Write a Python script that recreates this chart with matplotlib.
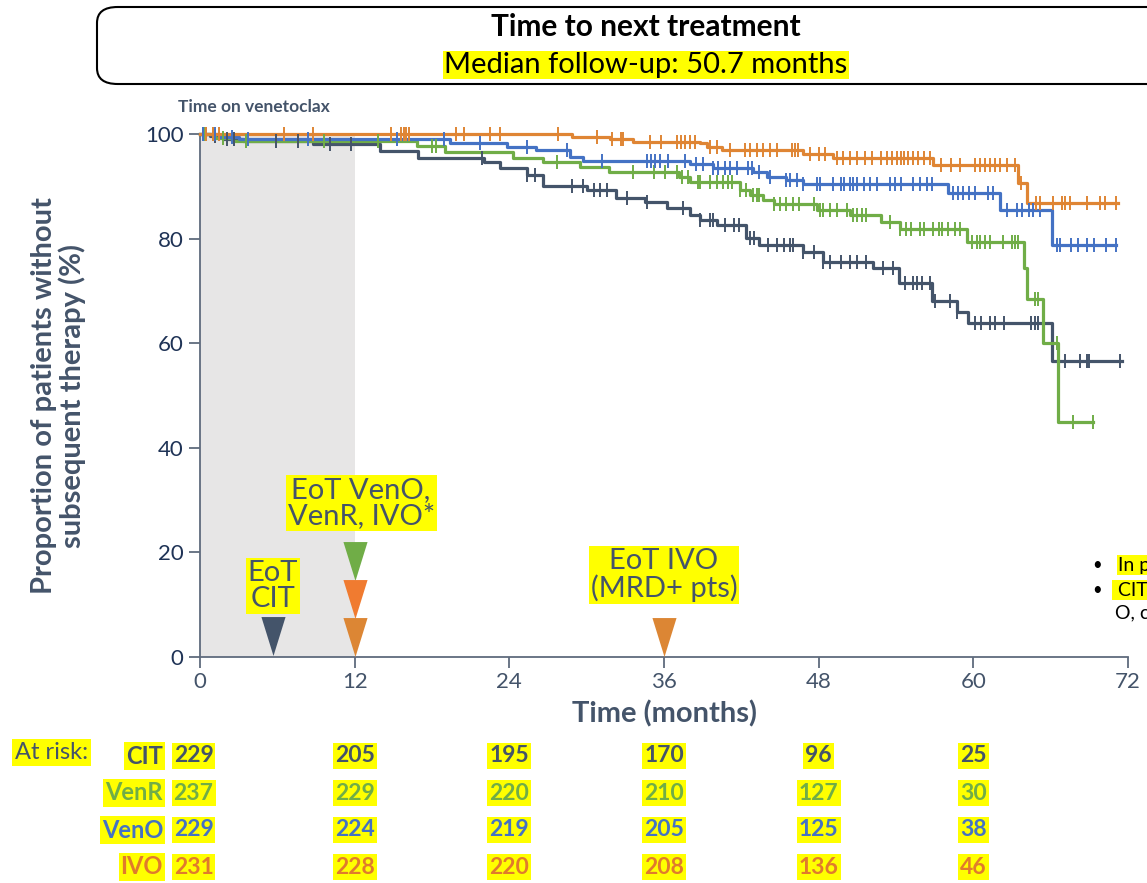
import numpy as np
import matplotlib
matplotlib.use("Agg")
import matplotlib.pyplot as plt
from matplotlib import patches, transforms
from matplotlib.path import Path

plt.rcParams["font.family"] = ["Lato", "DejaVu Sans"]

# ---- data ----
arms = ["CIT", "VenR", "VenO", "IVO"]
colors = {"CIT": "#44546A", "VenR": "#70AD47", "VenO": "#4472C4", "IVO": "#DF8534"}

cit_t = [0, 0.8, 1.8, 3.3, 8.8, 14.0, 16.9, 22.0, 23.3, 25.4, 26.6, 30.0, 32.3, 34.5, 36.2,
         38.0, 38.8, 40.1, 42.4, 43.4, 46.8, 48.3, 52.2, 54.2, 56.8, 58.7, 59.6, 66.1]
cit_s = [100, 99.6, 99.1, 98.6, 98.1, 96.8, 95.4, 94.6, 93.5, 92.2, 90.1, 89.3, 87.8, 87.0, 85.8,
         84.5, 83.5, 82.6, 80.1, 78.8, 77.4, 75.5, 74.4, 71.5, 68.1, 66.0, 63.9, 56.6]
cit_end = 71.5
cit_cens = [0.2, 0.5, 1.2, 2.1, 2.6, 5.9, 7.6, 10.1, 11.7, 21.9, 25.4, 26.0, 28.9, 29.7, 30.6,
            31.0, 31.6, 33.1, 34.7, 37.5, 38.8, 39.6, 39.8, 40.7, 41.4, 41.8, 42.7, 43.0, 44.1,
            44.8, 45.3, 45.8, 46.0, 46.8, 47.6, 48.3, 48.9, 49.7, 50.4, 51.0, 51.7, 53.0, 53.8,
            54.7, 55.3, 55.6, 56.0, 56.6, 57.0, 58.2, 58.7, 60.1, 60.6, 61.3, 61.7, 62.4, 64.5,
            64.8, 65.0, 67.1, 68.3, 68.8, 69.0, 71.4]

venr_t = [0, 1.2, 2.5, 16.8, 19.0, 24.3, 26.6, 29.5, 31.7, 37.2, 38.0, 41.9, 42.7, 43.7, 44.5,
          47.9, 50.4, 52.8, 54.3, 59.5, 63.9, 64.2, 65.4, 66.6]
venr_s = [100, 99.3, 98.7, 97.8, 96.5, 95.4, 94.6, 93.6, 92.8, 91.8, 90.8, 89.2, 88.3, 87.4, 86.6,
          85.5, 84.5, 83.2, 81.8, 79.3, 74.4, 68.4, 60.0, 45.0]
venr_end = 69.3
venr_cens = [0.4, 1.0, 1.8, 3.6, 9.6, 13.8, 18.0, 18.3, 27.7, 33.6, 35.2, 36.1, 37.0, 37.4,
             37.9, 38.6, 38.8, 39.6, 40.1, 40.6, 41.0, 41.3, 41.9, 42.4, 42.9, 43.2, 43.4, 44.5,
             45.0, 45.5, 46.0, 46.5, 47.6, 48.1, 48.3, 48.9, 49.4, 50.2, 50.7, 51.0, 51.4, 51.7,
             53.5, 54.3, 54.8, 55.2, 55.9, 56.2, 56.9, 57.3, 57.6, 58.0, 58.6, 59.0, 59.9, 60.3,
             60.5, 60.9, 61.3, 62.3, 63.0, 63.2, 63.5, 64.8, 65.0, 66.5, 67.7, 69.3]

veno_t = [0, 1.5, 3.0, 19.4, 23.8, 26.1, 28.7, 29.7, 38.0, 39.8, 42.9, 44.0, 45.5, 46.8, 58.0,
          62.1, 66.1]
veno_s = [100, 99.5, 99.0, 98.3, 97.5, 96.9, 95.6, 94.8, 94.3, 93.5, 92.7, 91.8, 91.2, 90.4,
          88.7, 85.5, 78.8]
veno_end = 71.1
veno_cens = [0.2, 1.2, 2.5, 3.7, 8.4, 15.3, 18.9, 21.7, 25.4, 28.5, 31.2, 34.7, 35.0, 35.3,
             35.7, 36.3, 37.6, 38.5, 39.0, 39.8, 40.2, 40.7, 41.1, 41.7, 42.5, 42.8, 43.4, 44.2,
             45.5, 45.8, 46.3, 46.8, 47.9, 48.1, 49.1, 49.7, 50.0, 50.4, 50.7, 51.0, 51.5, 52.0,
             52.5, 53.5, 53.9, 54.4, 55.3, 55.9, 56.4, 56.8, 58.4, 58.8, 59.2, 59.7, 60.1, 61.1,
             61.5, 62.6, 63.4, 63.8, 64.3, 64.6, 65.2, 66.5, 66.7, 67.6, 68.1, 68.8, 69.4, 70.3,
             71.1]

ivo_t = [0, 28.9, 31.8, 33.6, 38.8, 39.3, 40.5, 46.8, 49.1, 56.9, 63.5, 64.2]
ivo_s = [100, 99.5, 99.0, 98.5, 98.2, 97.5, 96.9, 96.2, 95.4, 94.1, 90.6, 86.8]
ivo_end = 71.2
ivo_cens = [0.5, 1.0, 1.5, 6.5, 8.8, 14.8, 15.6, 15.8, 16.0, 16.2, 19.9, 20.5, 22.5, 23.3,
            27.8, 30.8, 32.0, 32.7, 32.8, 34.9, 35.8, 37.0, 37.3, 37.6, 38.0, 38.4, 39.6, 40.1,
            41.1, 42.3, 42.7, 43.2, 43.7, 44.2, 44.8, 45.9, 46.2, 46.4, 47.3, 48.0, 48.5, 49.4,
            49.9, 50.4, 51.0, 51.6, 52.1, 52.8, 53.3, 53.7, 54.1, 54.4, 54.6, 54.9, 55.3, 55.7,
            56.2, 56.6, 57.5, 58.3, 59.0, 60.1, 60.5, 60.9, 61.3, 61.7, 62.1, 62.6, 63.2, 63.7,
            64.9, 65.2, 66.2, 66.9, 67.1, 67.5, 68.8, 69.8, 70.2, 71.1]

curves = {
    "CIT": (cit_t, cit_s, cit_end, cit_cens),
    "VenR": (venr_t, venr_s, venr_end, venr_cens),
    "VenO": (veno_t, veno_s, veno_end, veno_cens),
    "IVO": (ivo_t, ivo_s, ivo_end, ivo_cens),
}

risk_times = [0, 12, 24, 36, 48, 60]
at_risk = {
    "CIT": [229, 205, 195, 170, 96, 25],
    "VenR": [237, 229, 220, 210, 127, 30],
    "VenO": [229, 224, 219, 205, 125, 38],
    "IVO": [231, 228, 220, 208, 136, 46],
}

TXT = "#44546A"
HL = "#FFFF00"

fig = plt.figure(figsize=(11.47, 8.83), dpi=100)
ax = fig.add_axes([200 / 1147, 1 - 657 / 883, 928 / 1147, 523 / 883])
ax.set_xlim(0, 72)
ax.set_ylim(0, 100)

ax.axvspan(0, 12, color="#E7E6E6", zorder=0, lw=0)

# draw curves back to front
for arm in ["CIT", "VenR", "VenO", "IVO"]:
    t, s, end, cens = curves[arm]
    tt = list(t) + [end]
    ss = list(s) + [s[-1]]
    ax.step(tt, ss, where="post", color=colors[arm], lw=2.3, clip_on=False, zorder=3)
    idx = np.searchsorted(np.array(t), np.array(cens), side="right") - 1
    cy = np.array(s)[idx]
    ax.plot(cens, cy, ls="none", marker="|", ms=10, mew=1.4, color=colors[arm],
            clip_on=False, zorder=4)

# end-of-treatment markers
tri = Path([(-0.62, 1), (0.62, 1), (0, -1), (-0.62, 1)],
           [Path.MOVETO, Path.LINETO, Path.LINETO, Path.CLOSEPOLY])
ax.plot(5.65, 4.1, marker=tri, ms=28, color="#44546A", mew=0, zorder=5, clip_on=False)
ax.plot(12, 18.3, marker=tri, ms=28, color="#70AD47", mew=0, zorder=5, clip_on=False)
ax.plot(12, 11.1, marker=tri, ms=28, color="#F07B30", mew=0, zorder=5, clip_on=False)
ax.plot(12, 3.9, marker=tri, ms=28, color="#DC8634", mew=0, zorder=5, clip_on=False)
ax.plot(36, 3.9, marker=tri, ms=28, color="#DC8634", mew=0, zorder=5, clip_on=False)

hl = dict(facecolor=HL, edgecolor="none", pad=1.5)
ax.text(5.65, 13.5, "EoT\nCIT", ha="center", va="center", fontsize=21, color=TXT,
        linespacing=1.0, bbox=hl, zorder=6)
ax.text(12.5, 29.4, "EoT VenO,\nVenR, IVO*", ha="center", va="center", fontsize=21,
        color=TXT, linespacing=1.0, bbox=hl, zorder=6)
ax.text(36, 15.7, "EoT IVO\n(MRD+ pts)", ha="center", va="center", fontsize=21, color=TXT,
        linespacing=1.0, bbox=hl, zorder=6)

# axes styling
for side in ["top", "right"]:
    ax.spines[side].set_visible(False)
for side in ["left", "bottom"]:
    ax.spines[side].set_color("#5F6B7D")
    ax.spines[side].set_linewidth(1.3)
ax.set_xticks(risk_times + [72])
ax.set_yticks([0, 20, 40, 60, 80, 100])
ax.tick_params(axis="x", length=8, width=1.3, color="#5F6B7D", labelsize=16, labelcolor=TXT, pad=3)
ax.tick_params(axis="y", length=8, width=1.3, color="#5F6B7D", labelsize=16, labelcolor="#1F3356", pad=4)
ax.set_xlabel("Time (months)", fontsize=21, fontweight="bold", color=TXT, labelpad=6)
ax.set_ylabel("Proportion of patients without\nsubsequent therapy (%)", fontsize=21,
              fontweight="bold", color=TXT, labelpad=42, linespacing=1.1)

fig.text(178 / 1147, 1 - 107 / 883, "Time on venetoclax", fontsize=12.5, fontweight="bold",
         color=TXT, va="center")

# title box
box = patches.FancyBboxPatch((97 / 1147, 1 - 84 / 883), 1080 / 1147, 77 / 883,
                             boxstyle="round,pad=0,rounding_size=0.018",
                             transform=fig.transFigure, facecolor="white",
                             edgecolor="black", lw=1.5, clip_on=False)
fig.patches.append(box)
fig.text(646 / 1147, 1 - 27 / 883, "Time to next treatment", ha="center", va="center",
         fontsize=21.5, fontweight="bold", color="black")
fig.text(646 / 1147, 1 - 65 / 883, "Median follow-up: 50.7 months", ha="center", va="center",
         fontsize=21, color="black", bbox=dict(facecolor=HL, edgecolor="none", pad=1))

# side notes (cut off at the right edge, as in the reference)
fig.text(1092 / 1147, 1 - 565 / 883, "\u2022", fontsize=12, va="center", color="black")
fig.text(1118 / 1147, 1 - 565 / 883, "In p", fontsize=14, va="center", color="black",
         bbox=dict(facecolor=HL, edgecolor="none", pad=1))
fig.text(1092 / 1147, 1 - 590 / 883, "\u2022", fontsize=12, va="center", color="black")
fig.text(1113 / 1147, 1 - 590 / 883, " CIT", fontsize=14, va="center", color="black",
         bbox=dict(facecolor=HL, edgecolor="none", pad=1))
fig.text(1115 / 1147, 1 - 613 / 883, "O, c", fontsize=14, va="center", color="black")

# at-risk table
trans = transforms.blended_transform_factory(ax.transData, fig.transFigure)
row_y = [1 - 756 / 883, 1 - 793 / 883, 1 - 830 / 883, 1 - 867 / 883]
fig.text(15 / 1147, row_y[0] + 0.004, "At risk:", fontsize=17, color=TXT, va="center",
         bbox=dict(facecolor=HL, edgecolor="none", pad=2))
num_bb = dict(facecolor=HL, edgecolor="none", pad=1.5)
for i, arm in enumerate(arms):
    c = colors[arm] if arm != "IVO" else "#E07B2C"
    fig.text(163 / 1147, row_y[i], arm, fontsize=17, fontweight="bold", color=c,
             ha="right", va="center", bbox=num_bb)
    for j, (tm, n) in enumerate(zip(risk_times, at_risk[arm])):
        xoff = -0.5 if j == 0 else 0
        ax.text(tm + xoff, row_y[i], str(n), transform=trans, fontsize=16.5, fontweight="bold",
                color=c, ha="center", va="center", bbox=num_bb, clip_on=False)

fig.savefig("out.png", dpi=100)
